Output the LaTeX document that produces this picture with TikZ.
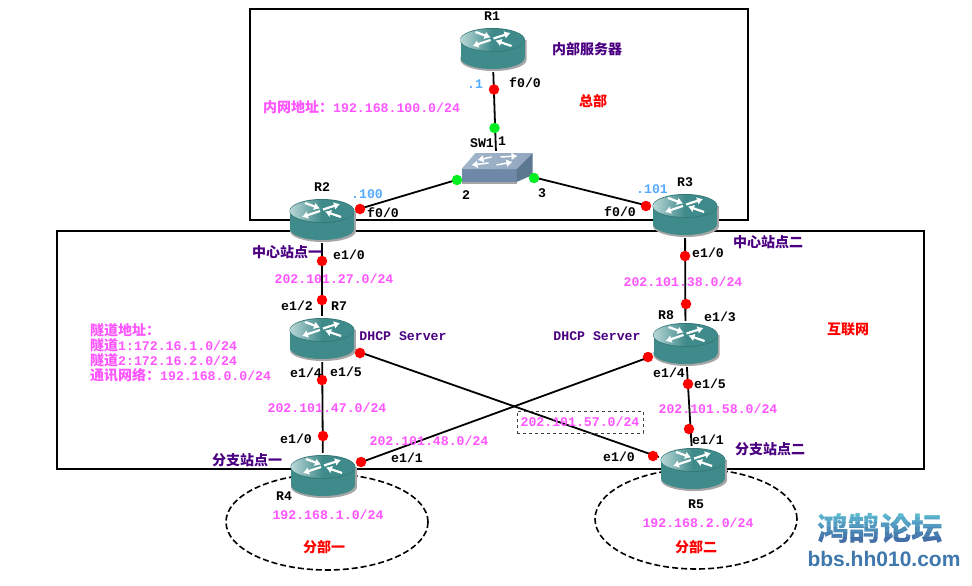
\documentclass[tikz,border=0pt]{standalone}
\usepackage{fontspec}
\setmainfont{Liberation Mono}
\newfontfamily\cjk{Noto Sans CJK SC}
\newfontfamily\wmfont{Liberation Sans}
\usetikzlibrary{arrows.meta, positioning, shapes.geometric, backgrounds}
\definecolor{teal1}{HTML}{3F8A8A}
\definecolor{teal2}{HTML}{B8D6D6}
\definecolor{addrpink}{HTML}{FF55FF}
\definecolor{sitepurple}{HTML}{4B0082}
\definecolor{ipblue}{HTML}{55AAFF}
\definecolor{portgreen}{HTML}{00EE22}
\definecolor{swtop}{HTML}{92A8C0}
\definecolor{swfront}{HTML}{7088A8}
\definecolor{swside}{HTML}{5C7890}
\definecolor{wmtop}{HTML}{5DB8D0}
\definecolor{wmlow}{HTML}{4470A8}
\definecolor{wmblue}{HTML}{3E78AD}
\newcommand{\zh}[1]{{\fontsize{14}{15}\selectfont\cjk #1}}
\tikzset{
  txt/.style={inner sep=0pt,font=\fontsize{13.2}{15}\selectfont\bfseries},
  lbl/.style={txt,text=black},
  addr/.style={txt,text=addrpink},
  site/.style={txt,text=sitepurple},
  area/.style={txt,text=red},
  ipnote/.style={txt,text=ipblue},
  link/.style={line width=1.8pt,draw=black},
  frame/.style={line width=2pt,draw=black},
  ring/.style={ellipse,draw=black,line width=1.6pt,dash pattern=on 6pt off 3pt,inner sep=0pt},
  reddot/.style={circle,fill=red,inner sep=0pt,minimum size=10.5pt},
  greendot/.style={circle,fill=portgreen,inner sep=0pt,minimum size=10.5pt},
  arr/.style={white,line width=2.2pt,-{Latex[length=6pt,width=8pt]}},
  router/.style={rectangle,inner sep=0pt,minimum width=68pt,minimum height=46pt,
    path picture={
      \begin{scope}[shift={(path picture bounding box.center)}]
        % shadow, body, then the lit top face
        \fill[gray!70] (1,11) ellipse [x radius=33,y radius=11];
        \fill[gray!70] (-32,-9) rectangle (34,11);
        \fill[teal1] (0,9) ellipse [x radius=32,y radius=11];
        \fill[teal1] (-32,-9) rectangle (32,9);
        \fill[teal1!88!black] (0,-9) ellipse [x radius=32.5,y radius=12];
        \shade[left color=teal2,right color=teal1,middle color=teal1] (0,-9) ellipse [x radius=32,y radius=11];
        \draw[arr] (-17,-17) -- (-2,-11.5);
        \draw[arr] (1,-10.5) -- (18,-16);
        \draw[arr] (-2,-9) -- (-20,-3);
        \draw[arr] (19,-3) -- (3,-8.5);
      \end{scope}}},
  switch/.style={rectangle,inner sep=0pt,minimum width=72pt,minimum height=34pt,
    path picture={
      \begin{scope}[shift={(path picture bounding box.center)}]
        \fill[gray!70] (-35,14) rectangle (20,16);
        \fill[swfront] (-35,1) rectangle (20,14);
        \fill[swside] (20,1) -- (36,-15) -- (36,7) -- (20,14) -- cycle;
        \shade[left color=swtop!85,right color=swtop] (-35,1) -- (-21,-15) -- (36,-15) -- (20,1) -- cycle;
        \draw[arr,line width=1.5pt] (-5,-11) -- (-19,-8);
        \draw[arr,line width=1.5pt] (4,-11) -- (21,-12);
        \draw[arr,line width=1.5pt] (-8,-5) -- (-25,-3);
        \draw[arr,line width=1.5pt] (0,-3) -- (16,-6);
      \end{scope}}}
}
\begin{document}
\begin{tikzpicture}[x=1pt,y=-1pt]
  \path[use as bounding box] (0,0) rectangle (972,586);

  % devices
  \node[router] (R1) at (492.5,49) {};
  \node[router] (R2) at (322,220) {};
  \node[router] (R3) at (685,215) {};
  \node[router] (R7) at (322,339) {};
  \node[router] (R8) at (685.5,344) {};
  \node[router] (R4) at (323,476) {};
  \node[router] (R5) at (693,469) {};
  \node[switch] (SW1) at (496.5,168) {};

  \begin{pgfonlayer}{background}
    \fill[white] (0,0) rectangle (972,586);
    \node[ring,minimum width=202pt,minimum height=96pt] (branchA) at (327,522) {};
    \node[ring,minimum width=202pt,minimum height=100pt] (branchB) at (696,519) {};
    \draw[frame] (250,9) rectangle (748,220);
    \draw[frame] (57,231) rectangle (924,469);
    % links run between device centres and end under the icons
    \draw[link] (R1) -- (SW1);
    \draw[link] (R2) -- (SW1);
    \draw[link] (R3) -- (SW1);
    \draw[link] (R2) -- (R7);
    \draw[link] (R3) -- (R8);
    \draw[link] (R7) -- (R4);
    \draw[link] (R8) -- (R5);
    \draw[link] (R7) -- (R5);
    \draw[link] (R8) -- (R4);
  \end{pgfonlayer}

  % ports
  \foreach \nm/\x/\y in {a/494/89.5,b/360/209,c/646/206,d/322/261,e/322/300,f/685/256,g/686/304,
      h/322/380,i/323/436,j/688/384,k/689/429,l/360/353,m/653/456,n/648/357,o/361/462}
    \node[reddot] (port\nm) at (\x,\y) {};
  \foreach \nm/\x/\y in {a/494.5/128,b/457/180,c/534/178}
    \node[greendot] (sw\nm) at (\x,\y) {};

  % device names
  \node[lbl] (nR1) at (492,16) {R1};
  \node[lbl] (nR2) at (322,187) {R2};
  \node[lbl] (nR3) at (685,182) {R3};
  \node[lbl] (nR7) at (339,306) {R7};
  \node[lbl] (nR8) at (666,315) {R8};
  \node[lbl] (nR4) at (284,496) {R4};
  \node[lbl] (nR5) at (696,504) {R5};
  \node[lbl] (nSW) at (482,143) {SW1};

  % interface labels
  \node[lbl] (ifa) at (525,83) {f0/0};
  \node[lbl] (ifb) at (383,213) {f0/0};
  \node[lbl] (ifc) at (620,212) {f0/0};
  \node[lbl] (ifd) at (349,255) {e1/0};
  \node[lbl] (ife) at (297,306) {e1/2};
  \node[lbl] (iff) at (306,373) {e1/4};
  \node[lbl] (ifg) at (346,372) {e1/5};
  \node[lbl] (ifh) at (296,439) {e1/0};
  \node[lbl] (ifi) at (407,458) {e1/1};
  \node[lbl] (ifj) at (708,253) {e1/0};
  \node[lbl] (ifk) at (720,317) {e1/3};
  \node[lbl] (ifl) at (669,373) {e1/4};
  \node[lbl] (ifm) at (710,384) {e1/5};
  \node[lbl] (ifn) at (708,440) {e1/1};
  \node[lbl] (ifo) at (619,457) {e1/0};
  \node[lbl] (swp1) at (502,141) {1};
  \node[lbl] (swp2) at (466,195) {2};
  \node[lbl] (swp3) at (542,193) {3};

  % host parts
  \node[ipnote] (ipa) at (475,84) {.1};
  \node[ipnote] (ipb) at (367,194) {.100};
  \node[ipnote] (ipc) at (652,189) {.101};

  % subnets
  \node[addr,anchor=west] (lan) at (263,107) {\zh{内网地址：}192.168.100.0/24};
  \node[addr] (net27) at (334,279) {202.101.27.0/24};
  \node[addr] (net38) at (683,282) {202.101.38.0/24};
  \node[addr] (net47) at (327,408) {202.101.47.0/24};
  \node[addr] (net48) at (429,441) {202.101.48.0/24};
  \node[addr] (net58) at (718,409) {202.101.58.0/24};
  \node[addr,draw=black!75,dashed,line width=1pt,minimum width=126pt,minimum height=22pt] (net57) at (580,422) {202.101.57.0/24};
  \node[addr] (lanA) at (328,515) {192.168.1.0/24};
  \node[addr] (lanB) at (698,523) {192.168.2.0/24};
  \node[addr,anchor=north west,align=left] (tunnels) at (90,323) {\zh{隧道地址：}\\\zh{隧道}1:172.16.1.0/24\\\zh{隧道}2:172.16.2.0/24\\\zh{通讯网络：}192.168.0.0/24};

  % site and area names
  \node[site] (srv) at (587,49) {\zh{内部服务器}};
  \node[site] (hubA) at (287,252) {\zh{中心站点一}};
  \node[site] (hubB) at (768,242) {\zh{中心站点二}};
  \node[site] (dhcpA) at (403,336) {DHCP Server};
  \node[site] (dhcpB) at (597,336) {DHCP Server};
  \node[site] (spokeA) at (247,460) {\zh{分支站点一}};
  \node[site] (spokeB) at (770,449) {\zh{分支站点二}};
  \node[area] (hq) at (593,101) {\zh{总部}};
  \node[area] (inet) at (848,329) {\zh{互联网}};
  \node[area] (brA) at (324,547) {\zh{分部一}};
  \node[area] (brB) at (696,547) {\zh{分部二}};

  % forum mark, one copy per colour band
  \foreach \n/\yb/\p in {0/512/100,1/517/80,2/522/60,3/527/40,4/532/20,5/537/0} {
    \begin{scope}
      \clip (800,\yb) rectangle (960,\yb+5);
      \node[inner sep=0pt,text=wmtop!\p!wmlow,font=\fontsize{31.5}{33}\selectfont\cjk\bfseries] (wmA\n) at (880,528) {鸿鹄论坛};
    \end{scope}
  }
  \node[inner sep=0pt,text=wmblue,font=\fontsize{21}{23}\selectfont\wmfont\bfseries] (wmB) at (884,559) {bbs.hh010.com};
\end{tikzpicture}
\end{document}
